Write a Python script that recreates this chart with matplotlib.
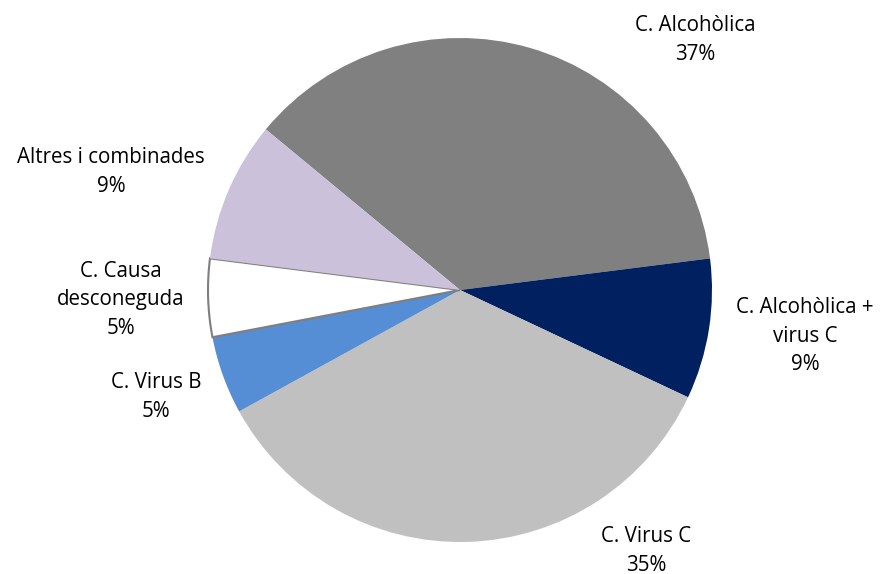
import matplotlib
matplotlib.use("Agg")
import matplotlib.pyplot as plt

categories = ["C. Alcohòlica", "C. Alcohòlica +\nvirus C", "C. Virus C", "C. Virus B",
              "C. Causa\ndesconeguda", "Altres i combinades"]
values = [37, 9, 35, 5, 5, 9]
colors = ["#808080", "#002060", "#C0C0C0", "#558ED5", "#FFFFFF", "#CCC1DA"]

W, H = 881, 574
fig = plt.figure(figsize=(W / 100, H / 100), dpi=100)
ax = fig.add_axes([0, 0, 1, 1])

cx, cy, r = 460, H - 290, 252
wedges, _ = ax.pie(values, colors=colors, startangle=140.4, counterclock=False,
                   center=(cx, cy), radius=r, frame=True,
                   wedgeprops=dict(linewidth=0))
ax.set_xlim(0, W)
ax.set_ylim(0, H)
ax.set_aspect("equal")
ax.axis("off")
wedges[4].set_edgecolor("#7F7F7F")
wedges[4].set_linewidth(1.5)

label_pos = [(695, 40), (805, 336), (646, 551), (156, 397), (121, 300), (111, 172)]
for name, v, (x, y) in zip(categories, values, label_pos):
    ax.text(x, H - y, f"{name}\n{v}%", ha="center", va="center",
            fontsize=14.8, family=["Open Sans", "DejaVu Sans"], color="#000000",
            linespacing=1.45)

fig.savefig("out.png", dpi=100)
